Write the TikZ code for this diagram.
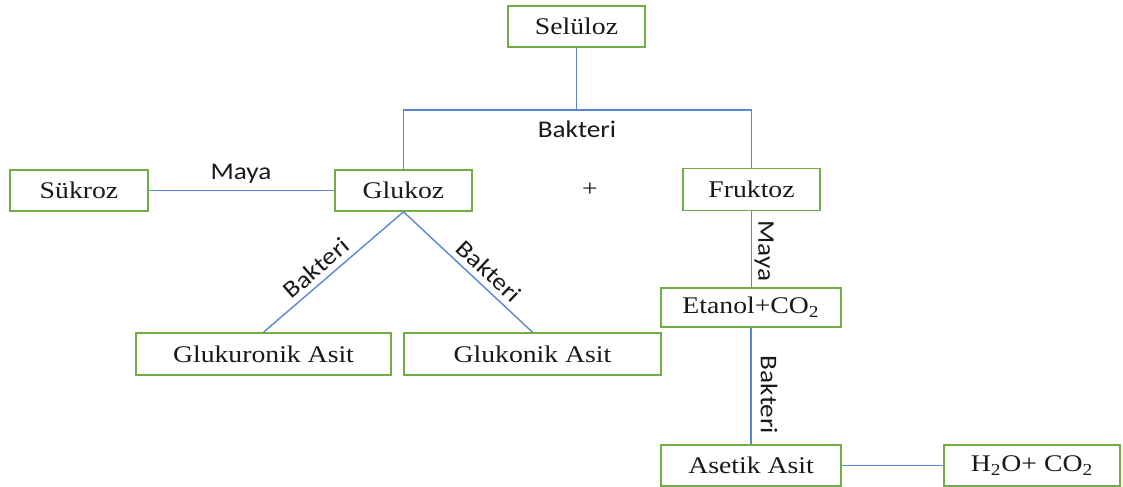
\documentclass[tikz,border=0pt]{standalone}
\usepackage{fontspec}
\newfontfamily\boxfont[FakeStretch=1.16]{Liberation Serif}
\newfontfamily\lblfont[FakeStretch=1.14]{Carlito}
\definecolor{boxgreen}{HTML}{70AD47}
\definecolor{linkblue}{HTML}{5B87D2}
\begin{document}
\begin{tikzpicture}[x=0.02cm,y=-0.02cm,
  stage/.style={draw=boxgreen, line width=0.9pt, fill=white, inner sep=0pt,
    font=\boxfont\fontsize{13.6}{16}\selectfont, text=black!90},
  sz/.style 2 args={minimum width=#1*0.02cm, minimum height=#2*0.02cm},
  link/.style={draw=linkblue, line width=0.8pt},
  lbl/.style={font=\lblfont\fontsize{13.6}{16}\selectfont, text=black!90, inner sep=0pt}]
\useasboundingbox (0,0) rectangle (1123,487);

% boxes
\node[stage, sz={137}{41}] (sel) at (576.5,26.5) {Selüloz};
\node[stage, sz={138}{41}] (suk) at (79,190.5) {Sükroz};
\node[stage, sz={137}{41}] (glu) at (403.5,190.5) {Glukoz};
\node[stage, sz={137}{42}] (fru) at (751.5,189.5) {Fruktoz};
\node[stage, sz={180}{39}] (eta) at (751,307.5) {Etanol+CO\textsubscript{2}};
\node[stage, sz={255}{42}] (gkr) at (263.5,354) {Glukuronik Asit};
\node[stage, sz={257}{42}] (gkn) at (532.5,354) {Glukonik Asit};
\node[stage, sz={180}{41}] (ase) at (751,465.5) {Asetik Asit};
\node[stage, sz={176}{41}] (wat) at (1032,465.5) {H\textsubscript{2}O+ CO\textsubscript{2}};

% connectors
\coordinate (split) at (576.5,110);
\draw[link] (sel.south) -- (split);
\draw[link] (glu.north) |- (split) -| (fru.north);
\draw[link] (suk.east) -- (glu.west);
\draw[link] (glu.south) -- (gkr.north);
\draw[link] (glu.south) -- (gkn.north);
\draw[link] (fru.south) -- (eta.north -| fru.south);
\draw[link] (eta.south) -- (ase.north);
\draw[link] (ase.east) -- (wat.west);

% labels
\node[lbl, anchor=base] (l1) at (577,137) {Bakteri};
\node[lbl, anchor=base] (l2) at (241,179) {Maya};
\node[font=\boxfont\fontsize{13.6}{16}\selectfont, text=black!90] (plus) at (590,190) {+};
\node[lbl, rotate=41] (l3) at (316,268) {Bakteri};
\node[lbl, rotate=-43.5] (l4) at (489,271) {Bakteri};
\node[lbl, rotate=-90] (l5) at (764,251) {Maya};
\node[lbl, rotate=-90] (l6) at (769,395) {Bakteri};
\end{tikzpicture}
\end{document}
